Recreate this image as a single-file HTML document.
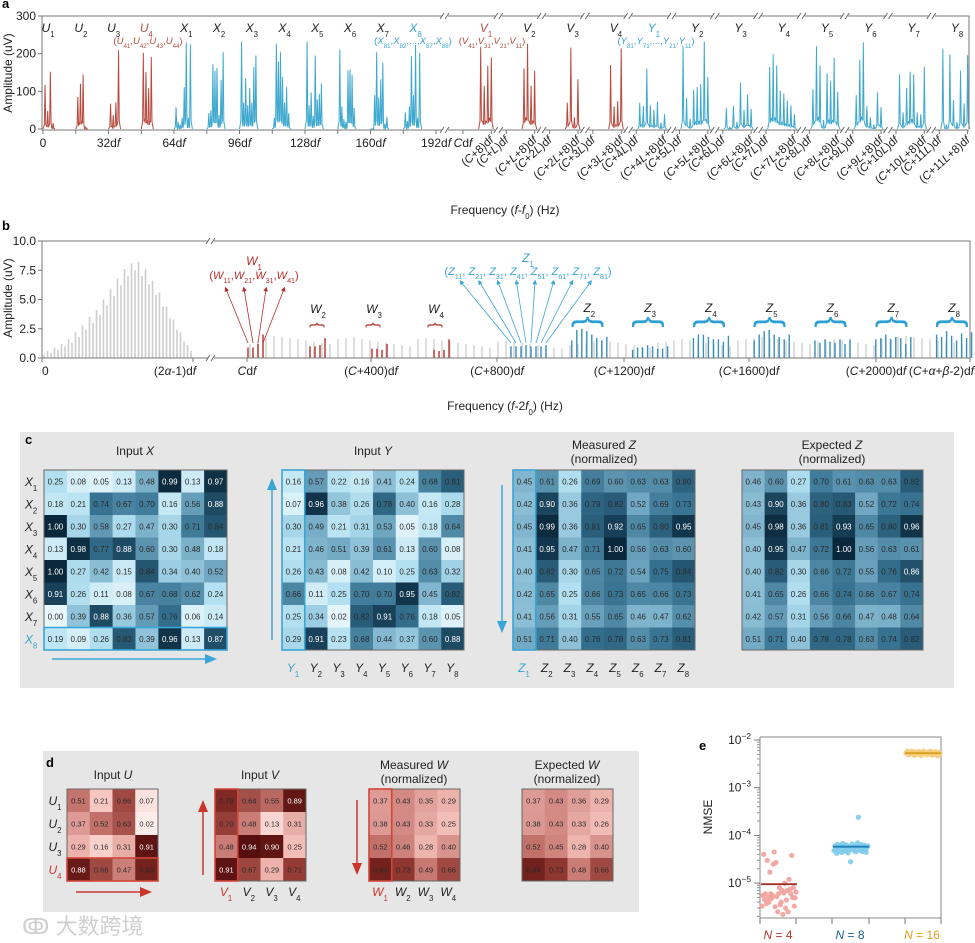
<!DOCTYPE html>
<html><head><meta charset="utf-8"><style>
html,body{margin:0;padding:0;background:#fff;}
svg{display:block;font-family:"Liberation Sans","Noto Sans CJK SC",sans-serif;}
</style></head><body>
<svg id="fig" width="975" height="943" viewBox="0 0 975 943" xmlns="http://www.w3.org/2000/svg">
<rect x="0" y="0" width="975" height="943" fill="#fff"/>
<rect x="20" y="432" width="934" height="256" fill="#e6e6e6"/>
<rect x="43" y="751" width="596" height="161" fill="#e6e6e6"/>
<text x="2" y="8" font-size="13" font-weight="bold">a</text>
<text x="2" y="230" font-size="13" font-weight="bold">b</text>
<text x="25" y="444" font-size="13" font-weight="bold">c</text>
<text x="46" y="767" font-size="13" font-weight="bold">d</text>
<text x="699" y="750" font-size="13" font-weight="bold">e</text>
<text x="22" y="934" font-size="22" fill="#d0d0d0">ↂ 大数跨境</text>
</svg>
<script>
// ---------- data ----------
const uAmp=[[117,48,152,16],[85,120,145,5],[67,37,71,209],[202,152,108,191]];
const xAmp=[[58,19,12,30,111,230,30,225],[42,49,172,155,162,37,130,204],[232,70,135,63,109,70,165,195],[30,227,179,204,139,70,111,42],[232,63,97,35,195,79,93,121],[211,60,26,19,155,158,144,56],[0,90,204,84,132,176,14,32],[44,21,60,193,90,223,30,202]];
const vAmp=[[218,115,168,190],[161,226,115,154],[70,216,31,132],[170,60,74,214]];
const yAmp=[[70,61,160,63,51,73,17,39],[220,82,27,104,111,119,232,138],[56,5,61,19,123,51,92,53],[165,198,169,102,94,75,63,39],[106,220,169,24,148,128,189,99],[90,184,230,61,31,12,97,58],[145,44,109,152,145,44,39,165],[213,12,198,77,19,155,68,196]];
const aYTicks=[0,100,200,300];
const aLeftTickLabels=["0","32d<tspan font-style='italic'>f</tspan>","64d<tspan font-style='italic'>f</tspan>","96d<tspan font-style='italic'>f</tspan>","128d<tspan font-style='italic'>f</tspan>","160d<tspan font-style='italic'>f</tspan>","192d<tspan font-style='italic'>f</tspan>"];
const aRightTickLabels=["","L","2L","3L","4L","5L","6L","7L","8L","9L","10L","11L"];

const bLeftGrey=[0.3,0.6,0.4,0.9,0.7,1.2,1.0,1.6,1.3,2.2,1.8,2.8,2.4,3.5,3.0,4.1,3.7,5.0,4.5,5.9,5.3,6.8,6.2,7.6,7.0,8.1,7.5,8.2,7.0,7.6,6.3,6.6,5.4,5.6,4.4,4.4,3.4,3.3,2.4,2.2,1.4,1.1,0.6];
const bRightGrey=[1.2,1.5,1.7,1.9,1.8,1.7,1.6,1.5,1.4,1.3,1.2,1.6,1.7,1.8,1.6,1.5,1.4,1.3,1.2,1.1,1.0,1.6,1.7,1.6,1.5,1.4,1.3,1.2,1.1,1.0,0.9,1.4,1.5,1.4,1.3,1.2,1.1,1.0,0.9,0.8,1.1,1.2,1.3,1.4,1.5,1.4,1.3,1.2,1.1,1.0,0.9,1.3,1.4,1.5,1.6,1.5,1.4,1.3,1.2,1.1,1.0,1.5,1.6,1.7,1.8,1.7,1.6,1.5,1.4,1.3,1.2,1.4,1.5,1.6,1.5,1.4,1.3,1.2,1.1,1.6,1.7,1.8,1.9,1.8,1.7,1.6,1.5,1.4,1.3,1.2];
const wAmp=[[0.9,0.9,1.2,2.0],[1.0,1.0,1.1,1.7],[0.8,0.8,0.7,1.2],[0.7,0.6,0.7,1.6]];
const zAmp=[[1.0,1.0,1.0,1.1,1.0,1.0,1.0,1.1],[1.5,2.4,2.5,2.3,2.0,1.7,1.5,1.8],[0.7,0.9,0.9,1.1,1.0,0.8,0.8,1.0],[1.7,2.0,2.0,1.8,1.6,1.6,1.4,1.9],[1.5,2.0,2.3,2.4,2.0,1.8,1.6,2.0],[1.5,1.3,1.6,1.4,1.3,1.6,1.2,1.6],[1.6,1.7,2.0,1.6,1.8,1.7,1.2,1.8],[2.0,1.8,2.3,1.9,1.5,2.1,1.7,2.2]];
const bYTicks=[0,2.5,5,7.5,10];

const matX=[[.25,.08,.05,.13,.48,.99,.13,.97],[.18,.21,.74,.67,.70,.16,.56,.88],[1.00,.30,.58,.27,.47,.30,.71,.84],[.13,.98,.77,.88,.60,.30,.48,.18],[1.00,.27,.42,.15,.84,.34,.40,.52],[.91,.26,.11,.08,.67,.68,.62,.24],[.00,.39,.88,.36,.57,.76,.06,.14],[.19,.09,.26,.83,.39,.96,.13,.87]];
const matY=[[.16,.57,.22,.16,.41,.24,.68,.81],[.07,.96,.38,.26,.78,.40,.16,.28],[.30,.49,.21,.31,.53,.05,.18,.64],[.21,.46,.51,.39,.61,.13,.60,.08],[.26,.43,.08,.42,.10,.25,.63,.32],[.66,.11,.25,.70,.70,.95,.45,.82],[.25,.34,.02,.82,.91,.76,.18,.05],[.29,.91,.23,.68,.44,.37,.60,.88]];
const matZm=[[.45,.61,.26,.69,.60,.63,.63,.80],[.42,.90,.36,.79,.82,.52,.69,.73],[.45,.99,.36,.81,.92,.65,.80,.95],[.41,.95,.47,.71,1.00,.56,.63,.60],[.40,.82,.30,.65,.72,.54,.75,.84],[.42,.65,.25,.66,.73,.65,.66,.73],[.41,.56,.31,.55,.65,.46,.47,.62],[.51,.71,.40,.76,.78,.63,.73,.81]];
const matZe=[[.46,.60,.27,.70,.61,.63,.63,.82],[.43,.90,.36,.80,.83,.52,.72,.74],[.45,.98,.36,.81,.93,.65,.80,.96],[.40,.95,.47,.72,1.00,.56,.63,.61],[.40,.82,.30,.66,.72,.55,.76,.86],[.41,.65,.26,.66,.74,.66,.67,.74],[.42,.57,.31,.56,.66,.47,.48,.64],[.51,.71,.40,.78,.78,.63,.74,.82]];
const matU=[[.51,.21,.66,.07],[.37,.52,.63,.02],[.29,.16,.31,.91],[.88,.66,.47,.83]];
const matV=[[.79,.64,.55,.89],[.70,.48,.13,.31],[.48,.94,.90,.25],[.91,.67,.29,.71]];
const matWm=[[.37,.43,.35,.29],[.38,.43,.33,.25],[.52,.46,.28,.40],[.84,.73,.49,.66]];
const matWe=[[.37,.43,.36,.29],[.38,.43,.33,.26],[.52,.45,.28,.40],[.84,.73,.48,.66]];

const eCategories=["N = 4","N = 8","N = 16"];
const eN4=[3.3e-6,5.5e-6,4e-5,4.5e-6,6e-6,3.7e-6,3e-5,5e-6,4e-6,1.7e-5,6e-6,4.8e-6,5.5e-6,2.5e-5,4.5e-5,3.2e-6,2.7e-5,5.2e-6,2.5e-6,6e-6,8e-6,3.5e-6,4e-6,7e-6,2.2e-6,6.2e-6,1e-5,3e-6,4.4e-6,7e-6,2.5e-6,1.2e-5,7.5e-6,6e-6,3.8e-5,5e-6,8e-6,3.3e-6,4.9e-6,6.5e-6];
const eN8=[4.8e-5,6e-5,5.2e-5,4.2e-5,6.5e-5,5.5e-5,4.6e-5,6.2e-5,5.8e-5,4.4e-5,6.8e-5,5.1e-5,5.9e-5,4.7e-5,6.3e-5,5.4e-5,4.3e-5,6e-5,5e-5,2.8e-5,5.6e-5,6.6e-5,4.9e-5,5.3e-5,6.1e-5,4.5e-5,5.7e-5,7e-5,2.4e-4,5.5e-5,4.8e-5,6.4e-5,5.2e-5,4.6e-5,5.9e-5,6.2e-5,5e-5,4.4e-5,5.6e-5,6e-5];
const eN16=[5.3e-3,5.8e-3,4.9e-3,5.5e-3,5.1e-3,5.9e-3,5.2e-3,4.8e-3,5.6e-3,5.4e-3,5.0e-3,5.7e-3,5.3e-3,4.7e-3,5.5e-3,5.9e-3,5.1e-3,5.3e-3,4.9e-3,5.6e-3,5.2e-3,5.8e-3,4.8e-3,5.4e-3,5.0e-3,5.7e-3,5.3e-3,4.6e-3,5.5e-3,5.2e-3];
const eMeans=[9.5e-6,5.8e-5,5.3e-3];
const eYTicks=[-5,-4,-3,-2];

// ---------- helpers ----------
const NS='http://www.w3.org/2000/svg';
const svg=document.getElementById('fig');
function mk(tag,attrs,parent){const e=document.createElementNS(NS,tag);for(const k in attrs)e.setAttribute(k,attrs[k]);(parent||svg).appendChild(e);return e;}
function tx(x,y,markup,attrs){const e=mk('text',Object.assign({x:x,y:y,'font-size':12,fill:'#222'},attrs||{}));e.innerHTML=markup;return e;}
function sub(b,i){return "<tspan font-style='italic'>"+b+"</tspan><tspan font-size='65%' baseline-shift='sub'>"+i+"</tspan>";}
function brk(x,y){const g=mk('g',{});mk('rect',{x:x-3,y:y-3,width:6,height:6,fill:'#fff'},g);mk('line',{x1:x-5,y1:y+3,x2:x-1,y2:y-3,stroke:'#666'},g);mk('line',{x1:x,y1:y+3,x2:x+4,y2:y-3,stroke:'#666'},g);}

// ---------- panel a ----------
const aY=v=>129-v*(113/300);
const aXl=d=>43+d*2.047;
const aXr=(k,d)=>463+k*43.3+d*3.54;
function spikeGroup(xs,vals,color,name){
  let d='M'+(xs[0]-2)+','+aY(0);
  for(let i=0;i<vals.length;i++){
    const x=xs[i];
    const prev=i>0?vals[i-1]:vals[i];
    const lobe=Math.min(prev,vals[i])*0.18;
    if(i>0)d+=' L'+((xs[i-1]+x)/2)+','+aY(lobe);
    d+=' L'+(x-0.7)+','+aY(vals[i]*0.1)+' L'+x+','+aY(vals[i])+' L'+(x+0.7)+','+aY(vals[i]*0.1);
  }
  d+=' L'+(xs[xs.length-1]+2)+','+aY(0);
  const p=mk('path',{d:d,fill:'none',stroke:color,'stroke-width':1});
  
  
}
uAmp.forEach((g,k)=>spikeGroup(g.map((v,i)=>aXl(16*k+1+i*1.3)),g,'#b84a3e','spectrum-u'+(k+1)));
xAmp.forEach((g,k)=>spikeGroup(g.map((v,i)=>aXl(64+16*k+1+i)),g,'#3ea8cf','spectrum-x'+(k+1)));
vAmp.forEach((g,k)=>spikeGroup(g.map((v,i)=>aXr(k,5+i)),g,'#b84a3e','spectrum-v'+(k+1)));
yAmp.forEach((g,k)=>spikeGroup(g.map((v,i)=>aXr(k+4,1+i)),g,'#3ea8cf','spectrum-y'+(k+1)));
mk('path',{d:'M42,16 L969,16 L969,129 M42,16 L42,130 L969,130',fill:'none',stroke:'#777','stroke-width':1});
aYTicks.forEach(v=>{
  const l=mk('line',{x1:38,x2:42,y1:aY(v),y2:aY(v),stroke:'#777'});
  
  
  const t=tx(36,aY(v)+4,String(v),{'text-anchor':'end','font-size':12});
  
  
});
for(let d=0;d<=192;d+=16){
  const l=mk('line',{x1:aXl(d),x2:aXl(d),y1:130,y2:134,stroke:'#777'});
  
  
}
aLeftTickLabels.forEach((s,i)=>{
  const t=tx(aXl(i*32),147,s,{'text-anchor':'middle','font-size':12});
  
  
});
const cdf=tx(463,147,"<tspan font-style='italic'>C</tspan>d<tspan font-style='italic'>f</tspan>",{'text-anchor':'middle','font-size':12});


brk(445,16);brk(445,130);
aRightTickLabels.forEach((s,k)=>{
  [0,8].forEach(o=>{
    if(k===0&&o===0){const l0=mk('line',{x1:aXr(0,0),x2:aXr(0,0),y1:130,y2:134,stroke:'#777'});return;}
    const x=aXr(k,o);
    const l=mk('line',{x1:x,x2:x,y1:130,y2:134,stroke:'#777'});
    
    
    const lab="(<tspan font-style='italic'>C</tspan>"+(s?"+"+s.replace('L',"<tspan font-style='italic'>L</tspan>"):"")+(o?"+8":"")+")d<tspan font-style='italic'>f</tspan>";
    const t=tx(x+3,141,lab,{'text-anchor':'end','font-size':11.5,transform:'rotate(-42 '+(x+3)+' 141)'});
    
    
  });
  if(k<11){const bx=(aXr(k,8)+aXr(k+1,0))/2;brk(bx,16);brk(bx,130);}
});
const aYT=tx(12,73,'Amplitude (uV)',{'text-anchor':'middle','font-size':12,transform:'rotate(-90 12 73)'});


const aXT=tx(505,214,"Frequency (<tspan font-style='italic'>f</tspan>-<tspan font-style='italic'>f</tspan><tspan font-size='65%' baseline-shift='sub'>0</tspan>) (Hz)",{'text-anchor':'middle','font-size':12});


const RED='#b84a3e',BLUE='#35a4d0';
for(let k=0;k<4;k++){const t=tx(aXl(16*k+2.5),32,sub('U',k+1),{'text-anchor':'middle','font-size':12,fill:k===3?RED:'#222'});}
for(let k=0;k<8;k++){const t=tx(aXl(64+16*k+6),32,sub('X',k+1),{'text-anchor':'middle','font-size':12,fill:k===7?BLUE:'#222'});}
for(let k=0;k<4;k++){const t=tx(aXr(k,6.5),32,sub('V',k+1),{'text-anchor':'middle','font-size':12,fill:k===0?RED:'#222'});}
for(let k=0;k<8;k++){const t=tx(aXr(k+4,5),32,sub('Y',k+1),{'text-anchor':'middle','font-size':12,fill:k===0?BLUE:'#222'});}
const s1=tx(148,44,"("+sub('U',41)+","+sub('U',42)+","+sub('U',43)+","+sub('U',44)+")",{'text-anchor':'middle','font-size':9.5,fill:RED});


const s2=tx(413,44,"("+sub('X',81)+","+sub('X',82)+",...,"+sub('X',87)+","+sub('X',88)+")",{'text-anchor':'middle','font-size':9.5,fill:BLUE});


const s3=tx(492,44,"("+sub('V',41)+","+sub('V',31)+","+sub('V',21)+","+sub('V',11)+")",{'text-anchor':'middle','font-size':9.5,fill:RED});


const s4=tx(656,44,"("+sub('Y',81)+","+sub('Y',71)+",...,"+sub('Y',21)+","+sub('Y',11)+")",{'text-anchor':'middle','font-size':9.5,fill:BLUE});



// ---------- panel b ----------
const bY=v=>358-v*11.7;
function bar(x,v,color,w,name){const l=mk('line',{x1:x,x2:x,y1:bY(0),y2:bY(v),stroke:color,'stroke-width':w});}
bLeftGrey.forEach((v,i)=>bar(44+i*3.5,v,'#cdcdcd',1.6,'b-spectrum-line'));
bRightGrey.forEach((v,i)=>bar(250+i*8,v,'#cfcfcf',1.4,'b-spectrum-line'));
wAmp.forEach((g,k)=>g.forEach((v,i)=>bar(248+62*k+i*5,v,'#b3302a',1.4,'w'+(k+1)+'-line')));
zAmp.forEach((g,k)=>g.forEach((v,i)=>bar(511+60.8*k+i*5,v,'#3a8fb8',1.4,'z'+(k+1)+'-line')));
mk('path',{d:'M42,241 L970,241 L970,358 M42,241 L42,358 L970,358',fill:'none',stroke:'#777'});
brk(211,241);brk(211,358);
bYTicks.forEach(v=>{
  const l=mk('line',{x1:38,x2:42,y1:bY(v),y2:bY(v),stroke:'#777'});
  
  
  const t=tx(36,bY(v)+4,v.toFixed(1),{'text-anchor':'end','font-size':12});
  
  
});
const I=s=>"<tspan font-style='italic'>"+s+"</tspan>";
const bTicks=[[42,"0"],[193,"(2"+I('α')+"-1)d"+I('f')],[247,I('C')+"d"+I('f')],[371,"("+I('C')+"+400)d"+I('f')],[497,"("+I('C')+"+800)d"+I('f')],[624,"("+I('C')+"+1200)d"+I('f')],[749,"("+I('C')+"+1600)d"+I('f')],[876,"("+I('C')+"+2000)d"+I('f')],[970,"("+I('C')+"+"+I('α')+"+"+I('β')+"-2)d"+I('f')]];
bTicks.forEach(([x,s],i)=>{
  const l=mk('line',{x1:x,x2:x,y1:358,y2:362,stroke:'#777'});
  
  
  const anchor=i===0?'start':(i===8?'end':'middle');
  const t=tx(i===1?x-18:(i===8?x+4:x),375,s,{'text-anchor':anchor,'font-size':12});
  
  
});
const bXT=tx(505,410,"Frequency ("+I('f')+"-2"+I('f')+"<tspan font-size='65%' baseline-shift='sub'>0</tspan>) (Hz)",{'text-anchor':'middle','font-size':12});


const bYT=tx(12,298,'Amplitude (uV)',{'text-anchor':'middle','font-size':12,transform:'rotate(-90 12 298)'});


const w1=tx(254,265,sub('W',1),{'text-anchor':'middle','font-size':12,fill:'#b3302a'});


const w1s=tx(254,279,"("+sub('W',11)+","+sub('W',21)+","+sub('W',31)+","+sub('W',41)+")",{'text-anchor':'middle','font-size':11,fill:'#b3302a'});


const defs=mk('defs',{});
const mr=mk('marker',{id:'ar',markerWidth:6,markerHeight:6,refX:3,refY:3,orient:'auto'},defs);mk('path',{d:'M0,0 L6,3 L0,6 z',fill:'#b3302a'},mr);
const mb=mk('marker',{id:'ab',markerWidth:6,markerHeight:6,refX:3,refY:3,orient:'auto'},defs);mk('path',{d:'M0,0 L6,3 L0,6 z',fill:'#3aa6d3'},mb);
[[248,226],[253,244],[258,266],[263,284]].forEach(([x0,x1])=>{const l=mk('line',{x1:x0,y1:343,x2:x1,y2:289,stroke:'#b3302a','stroke-width':0.8,'marker-end':'url(#ar)'});});
[['W',2,318],['W',3,374],['W',4,436]].forEach(([b,i,x])=>{
  const t=tx(x,313,sub(b,i),{'text-anchor':'middle','font-size':12});
  
  
  const br=tx(x,330,'{',{'text-anchor':'middle','font-size':16,fill:'#b3302a',transform:'rotate(90 '+x+' 325)'});
  
  
});
const z1=tx(528,262,sub('Z',1),{'text-anchor':'middle','font-size':12,fill:BLUE});


const z1s=tx(528,275,"("+[11,21,31,41,51,61,71,81].map(n=>sub('Z',n)).join(", ")+")",{'text-anchor':'middle','font-size':11,fill:BLUE});


for(let i=0;i<8;i++){const l=mk('line',{x1:511+i*5,y1:343,x2:461+i*18.5,y2:282,stroke:'#3aa6d3','stroke-width':0.8,'marker-end':'url(#ab)'});}
for(let k=1;k<8;k++){
  const cx=511+60.8*k+17.5;
  const t=tx(cx,312,sub('Z',k+1),{'text-anchor':'middle','font-size':12});
  
  
  const br=tx(cx,333,'{',{'text-anchor':'middle','font-size':34,fill:'#2e9fd4',transform:'rotate(90 '+cx+' 322)'});
  
  
}

// ---------- matrices ----------
function cmap(stops,v){for(let i=1;i<stops.length;i++){if(v<=stops[i][0]){const a=stops[i-1],b=stops[i],t=(v-a[0])/(b[0]-a[0]);return 'rgb('+[0,1,2].map(j=>Math.round(a[1][j]+t*(b[1][j]-a[1][j]))).join(',')+')';}}const l=stops[stops.length-1][1];return 'rgb('+l.join(',')+')';}
const BS=[[0,[232,247,252]],[0.25,[178,224,241]],[0.5,[118,172,198]],[0.75,[52,112,143]],[1,[10,40,60]]];
const RS=[[0,[255,240,238]],[0.25,[244,190,184]],[0.5,[198,118,112]],[0.75,[138,48,42]],[1,[70,5,5]]];
function drawMatrix(x0,y0,w,h,mat,stops,fs,name){
  const n=mat.length,m=mat[0].length,cw=w/m,ch=h/n;
  mat.forEach((row,r)=>row.forEach((v,c)=>{
    const rc=mk('rect',{x:x0+c*cw,y:y0+r*ch,width:cw+0.3,height:ch+0.3,fill:cmap(stops,v)});
    
    
    const t=tx(x0+c*cw+cw/2,y0+r*ch+ch/2+3,v.toFixed(2),{'text-anchor':'middle','font-size':fs,fill:v>0.85?'#fff':'#2a2a2a'});
    
    
  }));
  mk('rect',{x:x0,y:y0,width:w,height:h,fill:'none',stroke:'#666','stroke-width':1});
}
drawMatrix(44,470,183,180,matX,BS,8,'input-x');
drawMatrix(282,470,182,180,matY,BS,8,'input-y');
drawMatrix(513,470,182,180,matZm,BS,8,'measured-z');
drawMatrix(742,470,181,180,matZe,BS,8,'expected-z');
mk('rect',{x:44,y:627.5,width:183,height:22.5,fill:'none',stroke:'#3aa6d8','stroke-width':1.6});
mk('rect',{x:282,y:470,width:22.75,height:180,fill:'none',stroke:'#3aa6d8','stroke-width':1.6});
mk('rect',{x:513,y:470,width:22.75,height:180,fill:'none',stroke:'#3aa6d8','stroke-width':1.6});
[[135,455,"Input "+I('X')],[373,455,"Input "+I('Y')],[604,449,"Measured "+I('Z')],[604,463,"(normalized)"],[832,449,"Expected "+I('Z')],[832,463,"(normalized)"]].forEach(([x,y,s])=>{const t=tx(x,y,s,{'text-anchor':'middle','font-size':12});});
for(let i=0;i<8;i++){
  const t=tx(31,470+22.5*i+16,sub('X',i+1),{'text-anchor':'middle','font-size':12,fill:i===7?BLUE:'#222'});
  
  
  const ty=tx(282+22.75*i+11,672,sub('Y',i+1),{'text-anchor':'middle','font-size':12,fill:i===0?BLUE:'#222'});
  
  
  const tz=tx(513+22.75*i+11,672,sub('Z',i+1),{'text-anchor':'middle','font-size':12,fill:i===0?BLUE:'#222'});
  
  
}
function arrow(x1,y1,x2,y2,color,name){
  const a=Math.atan2(y2-y1,x2-x1),L=12,W=5;
  const bx=x2-L*Math.cos(a),by=y2-L*Math.sin(a);
  const g=mk('g',{});
  
  
  mk('line',{x1:x1,y1:y1,x2:bx,y2:by,stroke:color,'stroke-width':1.5},g);
  mk('path',{d:'M'+x2+','+y2+' L'+(bx-W*Math.sin(a))+','+(by+W*Math.cos(a))+' L'+(bx+W*Math.sin(a))+','+(by-W*Math.cos(a))+' z',fill:color},g);
}
arrow(52,659,217,659,'#3aa6d8','x-direction-arrow');
arrow(272,640,272,478,'#3aa6d8','y-direction-arrow');
arrow(502,485,502,633,'#3aa6d8','z-direction-arrow');
drawMatrix(67,789,91,92,matU,RS,7.5,'input-u');
drawMatrix(215,789,91,92,matV,RS,7.5,'input-v');
drawMatrix(369,789,91,92,matWm,RS,7.5,'measured-w');
drawMatrix(522,789,91,92,matWe,RS,7.5,'expected-w');
mk('rect',{x:67,y:858,width:91,height:23,fill:'none',stroke:'#d0453a','stroke-width':1.6});
mk('rect',{x:215,y:789,width:22.75,height:92,fill:'none',stroke:'#d0453a','stroke-width':1.6});
mk('rect',{x:369,y:789,width:22.75,height:92,fill:'none',stroke:'#d0453a','stroke-width':1.6});
[[113,779,"Input "+I('U')],[260,779,"Input "+I('V')],[414,769,"Measured "+I('W')],[414,783,"(normalized)"],[567,769,"Expected "+I('W')],[567,783,"(normalized)"]].forEach(([x,y,s])=>{const t=tx(x,y,s,{'text-anchor':'middle','font-size':12});});
const DR='#c8372c';
for(let i=0;i<4;i++){
  const t=tx(55,789+23*i+16,sub('U',i+1),{'text-anchor':'middle','font-size':12,fill:i===3?DR:'#222'});
  
  
  const tv=tx(215+22.75*i+11,896,sub('V',i+1),{'text-anchor':'middle','font-size':12,fill:i===0?DR:'#222'});
  
  
  const tw=tx(369+22.75*i+11,896,sub('W',i+1),{'text-anchor':'middle','font-size':12,fill:i===0?DR:'#222'});
  
  
}
arrow(76,892,152,892,DR,'u-direction-arrow');
arrow(203,875,203,800,DR,'v-direction-arrow');
arrow(357,800,357,875,DR,'w-direction-arrow');

// ---------- panel e ----------
const eY=v=>740+(-2-Math.log10(v))*47.7;
mk('path',{d:'M760,737 L760,918 L941,918 L941,737 L760,737',fill:'none',stroke:'#888'});
eYTicks.forEach(p=>{
  const l=mk('line',{x1:754,x2:760,y1:eY(Math.pow(10,p)),y2:eY(Math.pow(10,p)),stroke:'#777'});
  
  
  const t=tx(751,eY(Math.pow(10,p))+4,"10<tspan font-size='70%' baseline-shift='super'>−"+(-p)+"</tspan>",{'text-anchor':'end','font-size':12});
  
  
  for(let m=2;m<=9;m++){const v=m*Math.pow(10,p-1);const ml=mk('line',{x1:757,x2:760,y1:eY(v),y2:eY(v),stroke:'#999'});}
});
for(let m=2;m<=9;m++){const v=m*1e-6;if(eY(v)<918){const ml=mk('line',{x1:757,x2:760,y1:eY(v),y2:eY(v),stroke:'#999'});}}
[760,796,832,869,905,941].forEach(x=>{const l=mk('line',{x1:x,x2:x,y1:918,y2:924,stroke:'#777'});});
const eYT=tx(712,817,'NMSE',{'text-anchor':'middle','font-size':12,transform:'rotate(-90 712 817)'});


const eSeries=[eN4,eN8,eN16];
const ePt=['#f2a19b','#7ecbeb','#f4cd78'];
const eLn=['#a0302a','#1d7fb8','#d9a020'];
const eLab=['#b03a30','#1d5f8a','#d9a020'];
const eX0=[761,833,905];
eSeries.forEach((s,g)=>{
  s.forEach((v,i)=>{
    const c=mk('circle',{cx:eX0[g]+1+i*(34/(s.length-1)),cy:eY(v),r:2.6,fill:ePt[g],opacity:0.9});
    
    
  });
  const l=mk('line',{x1:eX0[g],x2:eX0[g]+36,y1:eY(eMeans[g]),y2:eY(eMeans[g]),stroke:eLn[g],'stroke-width':1.8});
  
  
  const parts=eCategories[g].split(' = ');
  const t=tx(eX0[g]+17,939,I(parts[0])+" = "+parts[1],{'text-anchor':'middle','font-size':12,fill:eLab[g]});
  
  
});
</script>
</body></html>
